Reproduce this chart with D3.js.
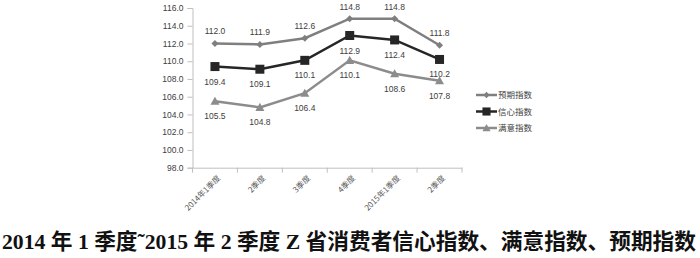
<!DOCTYPE html>
<html><head><meta charset="utf-8">
<script src="https://cdn.jsdelivr.net/npm/d3@7"></script>
<style>
body{margin:0;background:#fff;}
svg{display:block;}
</style></head><body>
<svg id="c" width="700" height="258"></svg>
<script>
const categories = ["2014年1季度","2季度","3季度","4季度","2015年1季度","2季度"];
const expectValues = [112.0,111.9,112.6,114.8,114.8,111.8];
const confidenceValues = [109.4,109.1,110.1,112.9,112.4,110.2];
const satisfactionValues = [105.5,104.8,106.4,110.1,108.6,107.8];
const yTicks = [98,100,102,104,106,108,110,112,114,116];
const seriesNames = ["预期指数","信心指数","满意指数"];
const titleText = "2014 年 1 季度˜2015 年 2 季度 Z 省消费者信心指数、满意指数、预期指数";

const series = [
  {name: seriesNames[0], values: expectValues, color:"#7f7f7f", marker:"diamond", label:"above"},
  {name: seriesNames[1], values: confidenceValues, color:"#262626", marker:"square", label:"below"},
  {name: seriesNames[2], values: satisfactionValues, color:"#8c8c8c", marker:"triangle", label:"below"}
];

const svg = d3.select("#c");
const idx = categories.map((c,i)=>i);
const x = d3.scaleBand().domain(idx).range([192.5, 462]);
const y = d3.scaleLinear().domain([98,116]).range([167.7, 8]);
const font = "'Liberation Sans', Arial, sans-serif";

// y axis
const yAxis = d3.axisLeft(y).tickValues(yTicks).tickFormat(d3.format(".1f")).tickSize(5).tickPadding(4);
const gy = svg.append("g").attr("transform","translate(192.5,0)").call(yAxis);
gy.select(".domain").attr("stroke","#bfbfbf");
gy.selectAll(".tick line").attr("stroke","#bfbfbf");
gy.selectAll(".tick text").attr("font-family",font).attr("font-size","8.5px").attr("fill","#404040");

// x axis
const xAxis = d3.axisBottom(x).tickSize(0).tickFormat(i=>categories[i]);
const gx = svg.append("g").attr("transform","translate(0,167.7)").call(xAxis);
gx.select(".domain").attr("stroke","#bfbfbf");
gx.selectAll(".tick line").remove();
const bounds = idx.map(i=>x(i)).concat([x.range()[1]]);
gx.selectAll(".bt").data(bounds).enter().append("line")
  .attr("x1",d=>d).attr("x2",d=>d).attr("y1",0).attr("y2",5).attr("stroke","#bfbfbf");
gx.selectAll(".tick text")
  .attr("font-family","'Noto Sans CJK SC', sans-serif").attr("font-size","8px").attr("fill","#595959")
  .attr("text-anchor","end").attr("dy",null).attr("y",0)
  .attr("transform","translate(6,11) rotate(-45)");

const cx = i => x(i) + x.bandwidth()/2;
const line = d3.line().x((d,i)=>cx(i)).y(d=>y(d));

function drawMarker(g, type, px, py, color, s){
  if(type==="diamond"){
    g.append("path").attr("d",`M${px},${py-s}L${px+s},${py}L${px},${py+s}L${px-s},${py}Z`).attr("fill",color);
  } else if(type==="square"){
    g.append("rect").attr("x",px-s).attr("y",py-s).attr("width",2*s).attr("height",2*s).attr("fill",color);
  } else {
    g.append("path").attr("d",`M${px},${py-s}L${px+s},${py+s*0.8}L${px-s},${py+s*0.8}Z`).attr("fill",color);
  }
}
const msize = {diamond:3.5, square:4.5, triangle:4.5};

series.forEach(s=>{
  const g = svg.append("g");
  g.append("path").datum(s.values).attr("d",line).attr("fill","none")
    .attr("stroke",s.color).attr("stroke-width",2.5);
  s.values.forEach((v,i)=>{
    drawMarker(g, s.marker, cx(i), y(v), s.color, msize[s.marker]);
    g.append("text").attr("x",cx(i)).attr("y", y(v) + (s.label==="above" ? -9 : 18))
      .attr("text-anchor","middle").attr("font-family",font).attr("font-size","8.5px").attr("fill","#404040")
      .text(d3.format(".1f")(v));
  });
});

// legend
const lg = svg.append("g");
series.forEach((s,i)=>{
  const ly = 95 + i*16.5;
  lg.append("line").attr("x1",476).attr("x2",497).attr("y1",ly).attr("y2",ly).attr("stroke",s.color).attr("stroke-width",2.5);
  drawMarker(lg, s.marker, 486.5, ly, s.color, msize[s.marker]*0.9);
  lg.append("text").attr("x",498).attr("y",ly+3).attr("font-family","'Noto Sans CJK SC', sans-serif")
    .attr("font-size","8.5px").attr("fill","#404040").text(s.name);
});

// title
svg.append("text").attr("x",349).attr("y",249).attr("text-anchor","middle")
  .attr("font-family","'Liberation Serif','Noto Sans CJK SC', serif").attr("font-size","21.7px")
  .attr("font-weight","bold").attr("fill","#111").text(titleText);
</script>
</body></html>
